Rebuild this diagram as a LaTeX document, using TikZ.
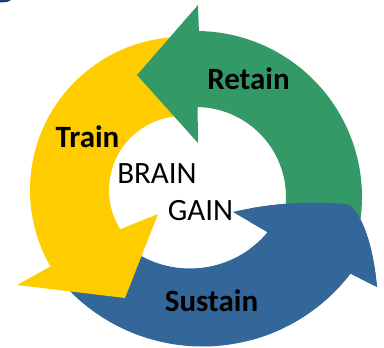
\documentclass[tikz,border=0pt]{standalone}
\usepackage{fontspec}
\setmainfont{Carlito}
\usetikzlibrary{calc}
\definecolor{cgreen}{RGB}{51,153,102}
\definecolor{cyellow}{RGB}{255,204,0}
\definecolor{cblue}{RGB}{51,102,153}
\definecolor{cnavy}{RGB}{28,58,120}
\begin{document}
\begin{tikzpicture}[x=1pt,y=-1pt,
  lbl/.style={font=\fontsize{31}{31}\selectfont, text=black, inner sep=0pt, anchor=base},
  bandlbl/.style={lbl, font=\fontsize{31}{31}\selectfont\bfseries}]
\useasboundingbox (0,0) rectangle (384,348);
% arc centres of the three bands
\coordinate (gc) at (196,197);
\coordinate (yc) at (183,190);
\coordinate (bo) at (202.5,160);
\coordinate (bi) at (190,167);
\newcommand\bluebandpath{($(bo)+(140:186.5)$) arc[start angle=140, end angle=37.5, radius=186.5]
  -- (377,287) .. controls (374,255) and (366,220) .. (350,205)
  .. controls (320,200) and (270,203) .. (233,212)
  -- ($(bi)+(40:101.5)$) arc[start angle=40, end angle=125, radius=101.5] -- cycle}
% small mark in the corner
\fill[cnavy] (0,0) -- (11,0) .. controls (8,2) .. (0,2.5) -- cycle;
% Sustain band
\fill[cblue] \bluebandpath;
% Train band
\fill[cyellow] ($(yc)+(280:153)$) arc[start angle=280, end angle=150, radius=153]
  -- (17,285) -- (125,298) -- (158,214)
  -- ($(yc)+(148:74)$) arc[start angle=148, end angle=280, radius=74] -- cycle;
% Retain band
\fill[cgreen] ($(gc)+(12:166)$) arc[start angle=12, end angle=-89, radius=166]
  -- (198,5) -- (137,75) -- (198,143)
  -- ($(gc)+(-89:90)$) arc[start angle=-89, end angle=12, radius=90] -- cycle;
% head of the Sustain band lies over the tail of Retain
\begin{scope}
  \clip (250,150) rectangle (384,348);
  \fill[cblue] \bluebandpath;
\end{scope}
% labels
\node[bandlbl] (retain) at (248.5,89) {Retain};
\node[bandlbl] (train) at (87.5,147) {Train};
\node[lbl] (brain) at (157,183) {BRAIN};
\node[lbl] (gain) at (200.5,221) {GAIN};
\node[bandlbl] (sustain) at (211.5,311) {Sustain};
\end{tikzpicture}
\end{document}
